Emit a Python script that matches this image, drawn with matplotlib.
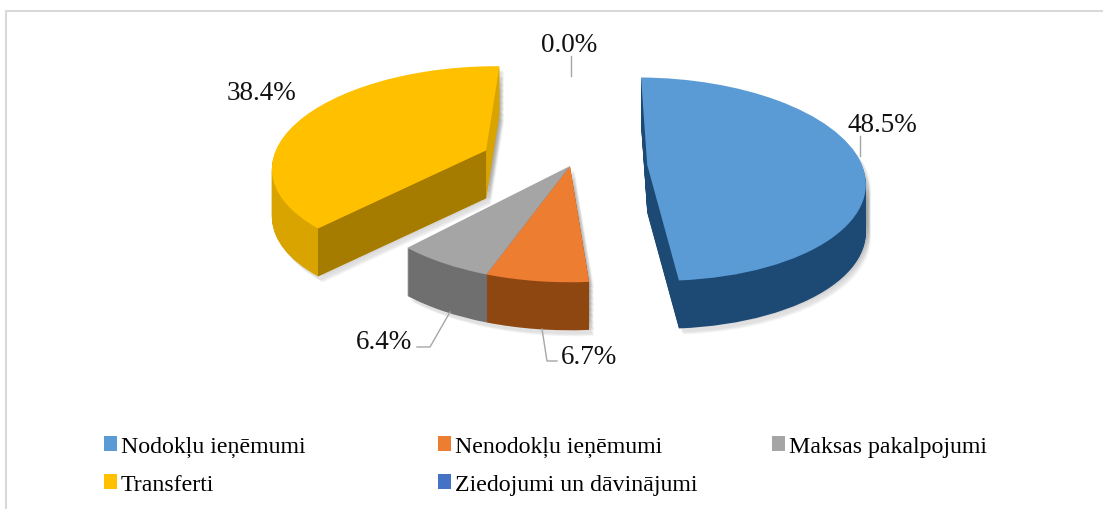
import matplotlib
matplotlib.use("Agg")
import matplotlib.pyplot as plt
import numpy as np
from matplotlib.transforms import Transform
from matplotlib.patches import Patch, Polygon

plt.rcParams['font.family'] = ['Liberation Serif', 'DejaVu Serif']

categories = ["Nodokļu ieņēmumi", "Nenodokļu ieņēmumi", "Maksas pakalpojumi",
              "Transferti", "Ziedojumi un dāvinājumi"]
values = [48.5, 6.7, 6.4, 38.4, 0.0]
explode = [0.36, 0.0, 0.0, 0.43, 0.0]
top_colors = ["#5B9BD5", "#ED7D31", "#A5A5A5", "#FFC000", "#4472C4"]
side_colors = ["#1C4A75", "#8F4712", "#6F6F6F", "#D9A400", "#264478"]
wall_color = "#A67C00"

W, H = 1103, 510
CX, CY = 570, 167
A, B = 215, 100
K = 0.14
DEPTH = 48


class Tilt(Transform):
    input_dims = 2
    output_dims = 2

    def __init__(self, dx=0, dy=0):
        super().__init__()
        self.dx, self.dy = dx, dy

    def transform_non_affine(self, pts):
        pts = np.asarray(pts, float)
        s = 1.0 / (1.0 + K * pts[:, 1])
        return np.column_stack([CX + A * pts[:, 0] * s + self.dx,
                                CY - B * pts[:, 1] * s + self.dy])


fig = plt.figure(figsize=(W / 100, H / 100), dpi=100)
ax = fig.add_axes([0, 0, 1, 1])


def layer(colors, dx, dy, z, alpha=None):
    wedges, _ = ax.pie(values, colors=colors, explode=explode, startangle=89,
                       counterclock=False, frame=False)
    tr = Tilt(dx, dy) + ax.transData
    for w in wedges:
        w.set_transform(tr)
        w.set_zorder(z)
        w.set_linewidth(0)
        w.set_clip_on(False)
        if alpha is not None:
            w.set_alpha(alpha)
    return wedges


# soft shadow
for sx, sy in [(5, 6), (4, 5), (3, 4)]:
    for d in range(0, DEPTH + 1, 6):
        layer(["#9a9a9a"] * 5, sx, d + sy, 1, alpha=0.10)
# extruded sides
for d in range(DEPTH, 0, -1):
    layer(side_colors, 0, d, 2)
# top faces
top = layer(top_colors, 0, 0, 5)

# flat cut wall of the yellow wedge (darker than its curved side)
w = top[3]
th = np.deg2rad(w.theta2)
apex = np.array(w.center)
rim = apex + w.r * np.array([np.cos(th), np.sin(th)])
p = Tilt().transform_non_affine(np.array([apex, rim]))
ax.add_patch(Polygon([p[0], p[1], p[1] + [0, DEPTH], p[0] + [0, DEPTH]],
                     closed=True, fc=wall_color, ec="none", zorder=3))

ax.set_aspect('auto')
ax.set_xlim(0, W)
ax.set_ylim(H, 0)
ax.axis('off')

# frame
ax.plot([5.5, 5.5, W], [H, 11.5, 11.5], color="#D9D9D9", lw=1.5, zorder=0)

# data labels
label_pos = [(882, 125), (589, 358), (384, 343), (261, 93), (569, 46)]
for v, (x, y) in zip(values, label_pos):
    ax.text(x, y, f"{v:.1f}%", fontsize=19.5, color="#111111", ha="center", va="center", zorder=8)
leaders = [([860, 860], [137, 157]),
           ([542, 547, 557], [330, 362, 362]),
           ([417, 430, 450], [348, 348, 313]),
           ([571, 571], [57, 77])]
for xs, ys in leaders:
    ax.plot(xs, ys, color="#A6A6A6", lw=1, zorder=7)

# legend, one block per column
columns = [[0, 3], [1, 4], [2]]
anchors = [104, 438, 772]
for idx, x0 in zip(columns, anchors):
    handles = [Patch(fc=top_colors[i], ec="none", label=categories[i]) for i in idx]
    leg = ax.legend(handles=handles, loc="upper left",
                    bbox_to_anchor=(x0 / W, 1 - 437 / H), bbox_transform=fig.transFigure,
                    frameon=False, fontsize=17.2, handlelength=0.54, handleheight=0.54,
                    handletextpad=0.17, labelspacing=0.70, borderpad=0, borderaxespad=0)
    ax.add_artist(leg)
    ax.legend_ = None

fig.savefig("out.png", dpi=100)
